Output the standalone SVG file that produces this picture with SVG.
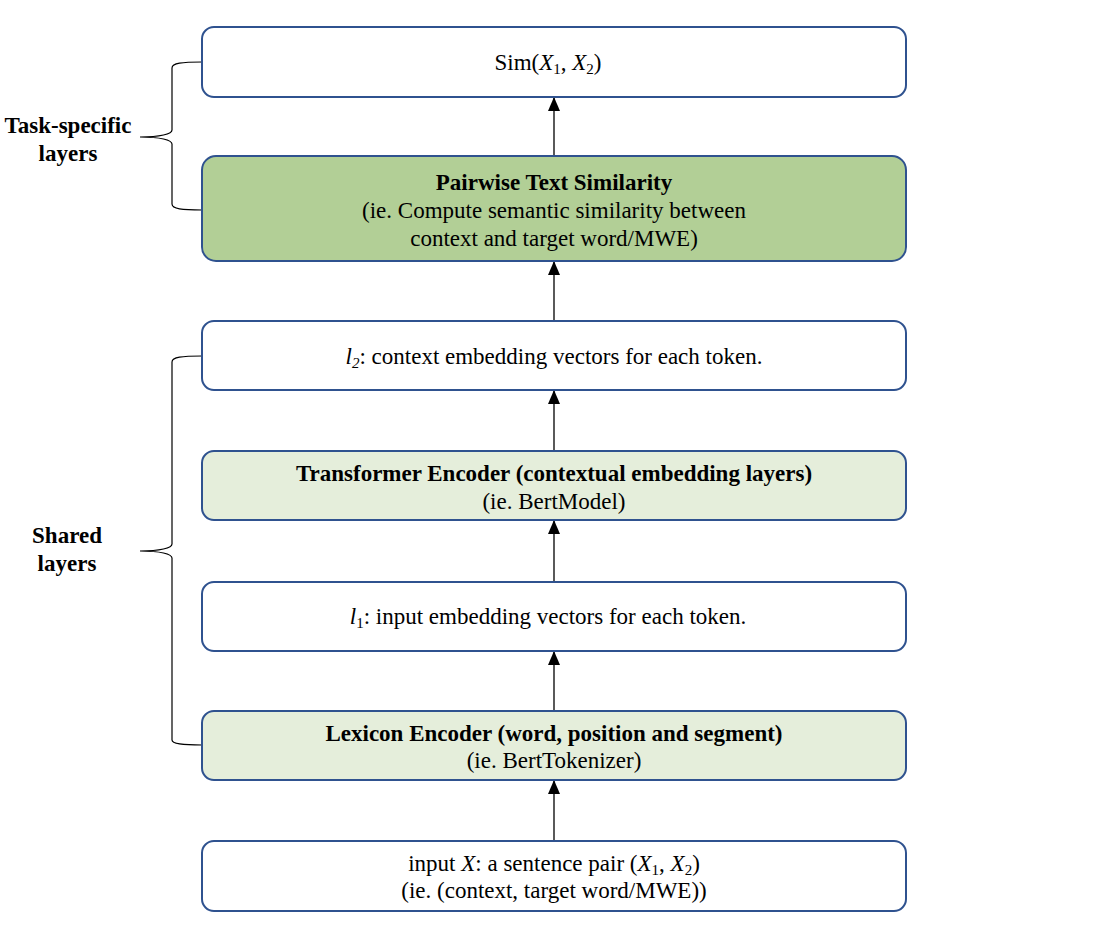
<svg xmlns="http://www.w3.org/2000/svg" width="1116" height="942" viewBox="0 0 1116 942">
<style>
.box{stroke:#2f528f;stroke-width:2}
.w{fill:#ffffff}
.g1{fill:#b2cf96}
.g2{fill:#e5eedb}
text{font-family:"Liberation Serif","Times New Roman",serif;font-size:23px;fill:#000;text-anchor:middle}
.b{font-weight:bold}
.i{font-style:italic}
.s{font-size:15px}
.conn{stroke:#000;stroke-width:1.3;fill:none}
.br{stroke:#000;stroke-width:1.2;fill:none}
</style>
<defs>
<marker id="ah" markerWidth="14" markerHeight="12" refX="13" refY="6" orient="auto" markerUnits="userSpaceOnUse" viewBox="0 0 14 12">
<path d="M0,0 L14,6 L0,12 Z" fill="#000"/>
</marker>
</defs>
<rect width="1116" height="942" fill="#fff"/>
<g id="connectors">
<line class="conn" x1="554" y1="156" x2="554" y2="98" marker-end="url(#ah)"/>
<line class="conn" x1="554" y1="321" x2="554" y2="262" marker-end="url(#ah)"/>
<line class="conn" x1="554" y1="451" x2="554" y2="391" marker-end="url(#ah)"/>
<line class="conn" x1="554" y1="582" x2="554" y2="521" marker-end="url(#ah)"/>
<line class="conn" x1="554" y1="711" x2="554" y2="652" marker-end="url(#ah)"/>
<line class="conn" x1="554" y1="841" x2="554" y2="781" marker-end="url(#ah)"/>
</g>
<g id="bracket-task">
<path class="br" d="M202,62 C182,62 172,63 172,68 L172,130 C172,134 160,137 140,137 C160,137 172,140 172,144 L172,204 C172,209 182,210 202,210"/>
<text class="b" x="68" y="133">Task-specific</text>
<text class="b" x="68" y="161">layers</text>
</g>
<g id="bracket-shared">
<path class="br" d="M202,356 C182,356 172,357 172,362 L172,544 C172,548 160,551 140,551 C160,551 172,554 172,558 L172,740 C172,744 182,745 202,745"/>
<text class="b" x="67" y="543">Shared</text>
<text class="b" x="67" y="571">layers</text>
</g>
<g id="sim">
<rect class="box w" x="202" y="27" width="704" height="70" rx="12"/>
<text x="548" y="70">Sim(<tspan class="i">X</tspan><tspan class="s" dy="4">1</tspan><tspan dy="-4">, </tspan><tspan class="i">X</tspan><tspan class="s" dy="4">2</tspan><tspan dy="-4">)</tspan></text>
</g>
<g id="pairwise">
<rect class="box g1" x="202" y="156" width="704" height="105" rx="14"/>
<text class="b" x="554" y="190">Pairwise Text Similarity</text>
<text x="554" y="218">(ie. Compute semantic similarity between</text>
<text x="554" y="246">context and target word/MWE)</text>
</g>
<g id="l2">
<rect class="box w" x="202" y="321" width="704" height="69" rx="12"/>
<text x="554" y="364"><tspan class="i">l</tspan><tspan class="i s" dy="4">2</tspan><tspan dy="-4">: context embedding vectors for each token.</tspan></text>
</g>
<g id="transformer">
<rect class="box g2" x="202" y="451" width="704" height="69" rx="12"/>
<text class="b" x="554" y="481">Transformer Encoder (contextual embedding layers)</text>
<text x="554" y="509">(ie. BertModel)</text>
</g>
<g id="l1">
<rect class="box w" x="202" y="582" width="704" height="69" rx="12"/>
<text x="548" y="624"><tspan class="i">l</tspan><tspan class="s" dy="4">1</tspan><tspan dy="-4">: input embedding vectors for each token.</tspan></text>
</g>
<g id="lexicon">
<rect class="box g2" x="202" y="711" width="704" height="69" rx="12"/>
<text class="b" x="554" y="741">Lexicon Encoder (word, position and segment)</text>
<text x="554" y="768">(ie. BertTokenizer)</text>
</g>
<g id="input">
<rect class="box w" x="202" y="841" width="704" height="70" rx="12"/>
<text x="554" y="871">input <tspan class="i">X</tspan>: a sentence pair (<tspan class="i">X</tspan><tspan class="s" dy="4">1</tspan><tspan dy="-4">, </tspan><tspan class="i">X</tspan><tspan class="s" dy="4">2</tspan><tspan dy="-4">)</tspan></text>
<text x="554" y="898">(ie. (context, target word/MWE))</text>
</g>
</svg>
